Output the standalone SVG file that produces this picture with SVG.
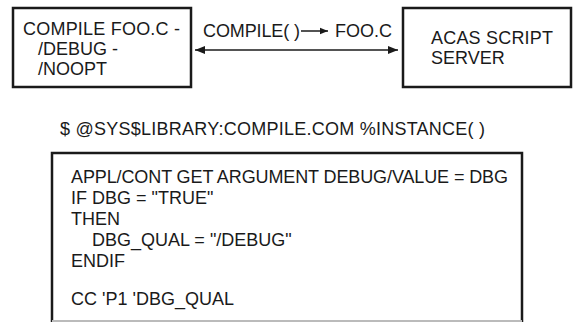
<svg xmlns="http://www.w3.org/2000/svg" width="573" height="325" viewBox="0 0 573 325">
<defs>
<style>
.t{font-family:"Liberation Sans",Arial,sans-serif;font-size:18px;fill:#1a1a1a}
.box{fill:none;stroke:#1a1a1a;stroke-width:2.5}
.ln{stroke:#1a1a1a;stroke-width:1.5;fill:none}
</style>
<marker id="ah" viewBox="0 0 10 10" refX="10" refY="5" markerWidth="8" markerHeight="8" markerUnits="userSpaceOnUse" orient="auto-start-reverse">
<path d="M0,1 L10,5 L0,9 Z" fill="#1a1a1a"/>
</marker>
<marker id="ah2" viewBox="0 0 10 10" refX="10" refY="5" markerWidth="14" markerHeight="10" markerUnits="userSpaceOnUse" orient="auto-start-reverse">
<path d="M0,1 L10,5 L0,9 Z" fill="#1a1a1a"/>
</marker>
</defs>
<rect width="573" height="325" fill="#ffffff"/>
<g id="node-compile">
<rect class="box" x="13" y="8" width="178" height="79"/>
<text class="t" x="23" y="35" textLength="157">COMPILE FOO.C -</text>
<text class="t" x="38" y="55">/DEBUG -</text>
<text class="t" x="38" y="75">/NOOPT</text>
</g>
<g id="node-server">
<rect class="box" x="403" y="8" width="168" height="79"/>
<text class="t" x="431" y="44" textLength="122">ACAS SCRIPT</text>
<text class="t" x="431" y="64">SERVER</text>
</g>
<g id="connectors">
<line class="ln" x1="195" y1="50" x2="398" y2="50" marker-start="url(#ah2)" marker-end="url(#ah2)"/>
<text class="t" x="203" y="37" textLength="97">COMPILE( )</text>
<line class="ln" x1="301" y1="31" x2="328" y2="31" marker-end="url(#ah)"/>
<text class="t" x="335" y="37" textLength="57">FOO.C</text>
</g>
<g id="command">
<text class="t" x="60" y="135" textLength="425">$ @SYS$LIBRARY:COMPILE.COM %INSTANCE( )</text>
</g>
<g id="node-script">
<path d="M52,322 L52,153 L522,153 L522,322" class="box" stroke-width="3"/>
<line x1="52" y1="321" x2="522" y2="321" stroke="#bbbbbb" stroke-width="2"/>
<text class="t" x="71" y="183" textLength="437">APPL/CONT GET ARGUMENT DEBUG/VALUE = DBG</text>
<text class="t" x="71" y="204">IF DBG = "TRUE"</text>
<text class="t" x="71" y="225">THEN</text>
<text class="t" x="92" y="246">DBG_QUAL = "/DEBUG"</text>
<text class="t" x="71" y="267">ENDIF</text>
<text class="t" x="71" y="305">CC 'P1 'DBG_QUAL</text>
</g>
</svg>
